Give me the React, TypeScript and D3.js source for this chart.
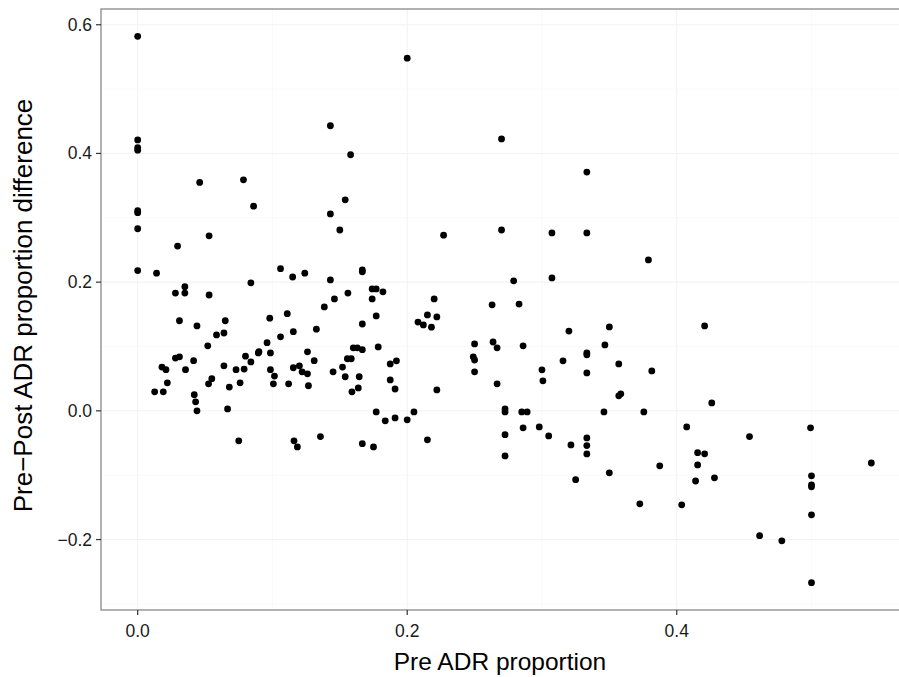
import * as d3 from 'd3';

// Pre ADR proportion (x) and Pre-Post ADR proportion difference (y)
const preProp = [
  0, 0, 0, 0, 0.046, 0.0785, 0.086, 0, 0, 0,
  0.0296, 0.053, 0, 0.014, 0.028, 0.035, 0.035, 0.053, 0.084, 0.106,
  0.115, 0.031, 0.044, 0.065, 0.0585, 0.064, 0.052, 0.098, 0.111, 0.106,
  0.1155, 0.096, 0.08, 0.084, 0.0895, 0.09, 0.0985, 0.028, 0.031, 0.0415,
  0.018, 0.021, 0.0355, 0.064, 0.073, 0.079, 0.0985, 0.1015, 0.1155, 0.12,
  0.022, 0.0126, 0.019, 0.055, 0.0526, 0.068, 0.076, 0.1007, 0.112, 0.042,
  0.043, 0.044, 0.0667, 0.075, 0.116, 0.1185, 0.154, 0.143, 0.15, 0.227,
  0.124, 0.143, 0.1667, 0.1667, 0.174, 0.177, 0.182, 0.156, 0.174, 0.146,
  0.1385, 0.177, 0.1667, 0.1326, 0.22, 0.215, 0.222, 0.208, 0.212, 0.218,
  0.16, 0.163, 0.1667, 0.1785, 0.126, 0.131, 0.122, 0.126, 0.1267, 0.1556,
  0.1585, 0.152, 0.145, 0.154, 0.1644, 0.1637, 0.159, 0.1874, 0.192, 0.1874,
  0.191, 0.222, 0.25, 0.249, 0.25, 0.25, 0.177, 0.1837, 0.191, 0.2,
  0.205, 0.1356, 0.1667, 0.175, 0.215, 0.2, 0.143, 0.158, 0.27, 0.3333,
  0.27, 0.3074, 0.3333, 0.379, 0.279, 0.3074, 0.263, 0.283, 0.32, 0.35,
  0.2637, 0.2667, 0.286, 0.3467, 0.3333, 0.3333, 0.3156, 0.357, 0.3, 0.3333,
  0.3815, 0.2667, 0.3007, 0.357, 0.3585, 0.2726, 0.2726, 0.285, 0.289, 0.346,
  0.3756, 0.2726, 0.286, 0.298, 0.305, 0.3215, 0.3333, 0.3333, 0.3333, 0.4074,
  0.4155, 0.4155, 0.414, 0.2726, 0.3874, 0.325, 0.35, 0.3726, 0.4037, 0.4207,
  0.426, 0.454, 0.4993, 0.4207, 0.428, 0.5, 0.5, 0.5, 0.5444, 0.5,
  0.4615, 0.478, 0.5,
];
const propDiff = [
  0.582, 0.421, 0.409, 0.405, 0.355, 0.359, 0.318, 0.311, 0.308, 0.283,
  0.256, 0.272, 0.218, 0.214, 0.183, 0.193, 0.183, 0.18, 0.199, 0.221,
  0.208, 0.14, 0.132, 0.14, 0.118, 0.121, 0.101, 0.144, 0.151, 0.115,
  0.123, 0.106, 0.085, 0.076, 0.09, 0.092, 0.09, 0.082, 0.084, 0.078,
  0.068, 0.064, 0.064, 0.07, 0.064, 0.065, 0.064, 0.054, 0.067, 0.07,
  0.0435, 0.0295, 0.0295, 0.05, 0.042, 0.037, 0.0435, 0.042, 0.042, 0.025,
  0.014, 0.0, 0.003, -0.0466, -0.0466, -0.056, 0.328, 0.306, 0.281, 0.273,
  0.214, 0.2035, 0.219, 0.216, 0.1895, 0.1895, 0.185, 0.183, 0.174, 0.174,
  0.1615, 0.1475, 0.135, 0.127, 0.174, 0.149, 0.146, 0.138, 0.1336, 0.13,
  0.098, 0.098, 0.095, 0.0994, 0.0917, 0.078, 0.0606, 0.0575, 0.039, 0.081,
  0.081, 0.068, 0.0606, 0.053, 0.053, 0.0357, 0.0295, 0.073, 0.0777, 0.048,
  0.034, 0.0326, 0.104, 0.084, 0.079, 0.0606, -0.0016, -0.0155, -0.011, -0.014,
  -0.0016, -0.04, -0.051, -0.056, -0.045, 0.548, 0.443, 0.398, 0.4225, 0.371,
  0.281, 0.2765, 0.2765, 0.2346, 0.202, 0.2066, 0.1647, 0.166, 0.124, 0.1305,
  0.107, 0.098, 0.101, 0.1025, 0.087, 0.09, 0.0777, 0.073, 0.0637, 0.059,
  0.062, 0.042, 0.0466, 0.0233, 0.0264, 0.003, -0.0016, -0.0016, -0.0016, -0.0016,
  -0.0016, -0.037, -0.0264, -0.025, -0.039, -0.053, -0.042, -0.054, -0.067, -0.025,
  -0.065, -0.084, -0.109, -0.07, -0.0854, -0.107, -0.0963, -0.1445, -0.146, 0.132,
  0.0124, -0.04, -0.0264, -0.0668, -0.104, -0.101, -0.115, -0.118, -0.081, -0.1615,
  -0.194, -0.202, -0.267,
];

const xTicks = [0, 0.2, 0.4];
const yTicks = [-0.2, 0, 0.2, 0.4, 0.6];
const xMinor = [0.1, 0.3, 0.5];
const yMinor = [-0.3, -0.1, 0.1, 0.3, 0.5];

const width = 899;
const height = 677;
const margin = { top: 9, right: -9, bottom: 67, left: 101 };

const fmt = (v: number) => d3.format('.1f')(v).replace('-', '\u2212');

export default function App() {
  const points = preProp.map((x, i) => ({ x, y: propDiff[i] }));

  // ggplot-style 5% expansion around the data range
  const xExt = d3.extent(preProp) as [number, number];
  const yExt = d3.extent(propDiff) as [number, number];
  const xPad = (xExt[1] - xExt[0]) * 0.05;
  const yPad = (yExt[1] - yExt[0]) * 0.05;

  const x = d3.scaleLinear()
    .domain([xExt[0] - xPad, xExt[1] + xPad])
    .range([margin.left, width - margin.right]);
  const y = d3.scaleLinear()
    .domain([yExt[0] - yPad, yExt[1] + yPad])
    .range([height - margin.bottom, margin.top]);

  const [x0, x1] = x.range();
  const [y0, y1] = y.range();
  const font = '"Liberation Sans", Arial, sans-serif';

  return (
    <svg width={width} height={height}
      style={{ position: 'absolute', left: 0, top: 0, background: 'white' }}>
      {/* grid */}
      {xMinor.map(t => (
        <line key={'xm' + t} x1={x(t)} x2={x(t)} y1={y1} y2={y0} stroke="#fafafa" strokeWidth={1} />
      ))}
      {yMinor.map(t => (
        <line key={'ym' + t} x1={x0} x2={x1} y1={y(t)} y2={y(t)} stroke="#fafafa" strokeWidth={1} />
      ))}
      {xTicks.map(t => (
        <line key={'xg' + t} x1={x(t)} x2={x(t)} y1={y1} y2={y0} stroke="#f2f2f2" strokeWidth={1} />
      ))}
      {yTicks.map(t => (
        <line key={'yg' + t} x1={x0} x2={x1} y1={y(t)} y2={y(t)} stroke="#f2f2f2" strokeWidth={1} />
      ))}

      {/* points */}
      {points.map((d, i) => (
        <circle key={i} cx={x(d.x)} cy={y(d.y)} r={3.4} fill="black" />
      ))}

      {/* panel border */}
      <rect x={x0} y={y1} width={x1 - x0} height={y0 - y1} fill="none" stroke="#7f7f7f" strokeWidth={1.2} />

      {/* x axis */}
      {xTicks.map(t => (
        <g key={'xt' + t}>
          <line x1={x(t)} x2={x(t)} y1={y0} y2={y0 + 5} stroke="#333" strokeWidth={1.2} />
          <text x={x(t)} y={y0 + 27} textAnchor="middle" fontFamily={font} fontSize={17.5} fill="#1a1a1a">{fmt(t)}</text>
        </g>
      ))}
      {/* y axis */}
      {yTicks.map(t => (
        <g key={'yt' + t}>
          <line x1={x0 - 5} x2={x0} y1={y(t)} y2={y(t)} stroke="#333" strokeWidth={1.2} />
          <text x={x0 - 9} y={y(t) + 6} textAnchor="end" fontFamily={font} fontSize={17.5} fill="#1a1a1a">{fmt(t)}</text>
        </g>
      ))}

      <text x={500} y={670} textAnchor="middle" fontFamily={font} fontSize={24.5}>Pre ADR proportion</text>
      <text transform={`translate(32, ${(y0 + y1) / 2 - 4}) rotate(-90)`} textAnchor="middle" fontFamily={font} fontSize={26}>
        Pre{'\u2212'}Post ADR proportion difference
      </text>
    </svg>
  );
}
